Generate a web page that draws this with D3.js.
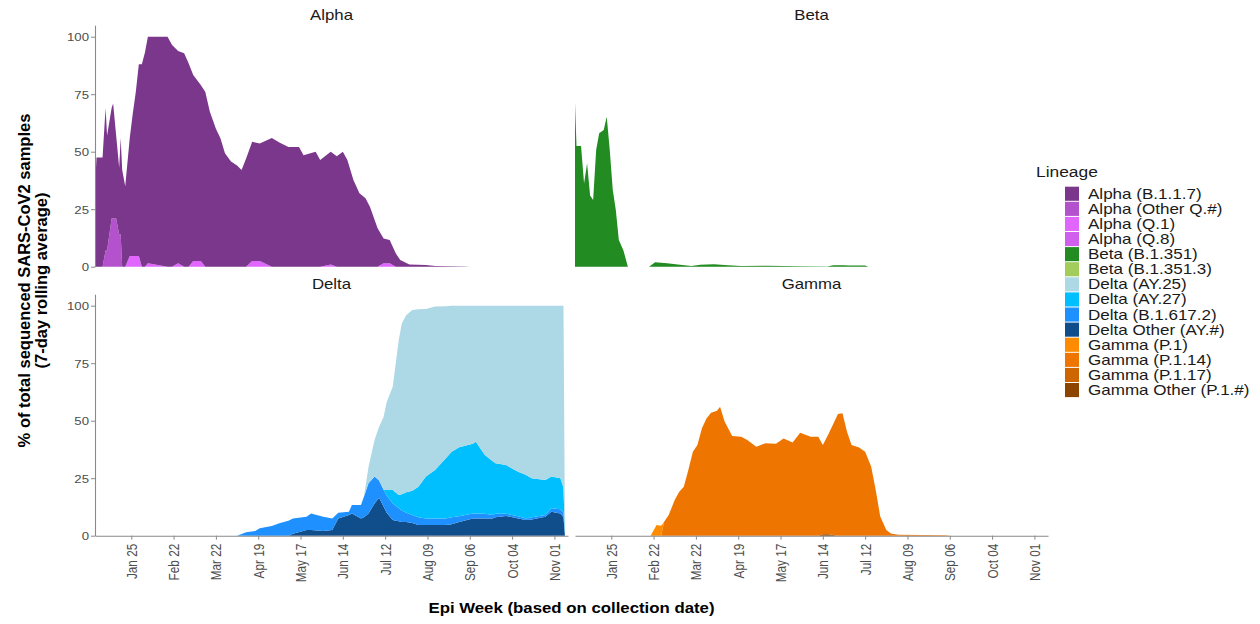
<!DOCTYPE html>
<html>
<head>
<meta charset="utf-8">
<script src="https://cdn.jsdelivr.net/npm/d3@7"></script>
<style>
  body { margin: 0; background: #fff; }
  svg text { font-family: "Liberation Sans", Arial, sans-serif; }
</style>
</head>
<body>
<svg id="chart" width="1260" height="624"></svg>
<script>
const lineages = ["Alpha (B.1.1.7)", "Alpha (Other Q.#)", "Alpha (Q.1)", "Alpha (Q.8)",
  "Beta (B.1.351)", "Beta (B.1.351.3)",
  "Delta (AY.25)", "Delta (AY.27)", "Delta (B.1.617.2)", "Delta Other (AY.#)",
  "Gamma (P.1)", "Gamma (P.1.14)", "Gamma (P.1.17)", "Gamma Other (P.1.#)"];
const lineageColors = ["#7a378b", "#b452cd", "#e066ff", "#d15fee",
  "#228b22", "#a2cd5a",
  "#add8e6", "#00bfff", "#1e90ff", "#104e8b",
  "#ff8c00", "#ee7600", "#cd6600", "#8b4500"];

const tickDates = ["2021-01-25", "2021-02-22", "2021-03-22", "2021-04-19", "2021-05-17", "2021-06-14",
  "2021-07-12", "2021-08-09", "2021-09-06", "2021-10-04", "2021-11-01"];
const yTicks = [0, 25, 50, 75, 100];

// Alpha panel
const alphaDates = ["2021-01-01","2021-01-02","2021-01-06","2021-01-08","2021-01-09","2021-01-12","2021-01-13","2021-01-15","2021-01-17","2021-01-18",
  "2021-01-19","2021-01-21","2021-01-24","2021-01-26","2021-01-28","2021-01-30","2021-02-01","2021-02-03","2021-02-05","2021-02-18",
  "2021-02-21","2021-02-25","2021-03-01","2021-03-04","2021-03-07","2021-03-12","2021-03-15","2021-03-18","2021-03-22","2021-03-25",
  "2021-03-28","2021-04-01","2021-04-05","2021-04-08","2021-04-11","2021-04-15","2021-04-20","2021-04-28","2021-05-03","2021-05-09",
  "2021-05-16","2021-05-19","2021-05-27","2021-05-30","2021-06-06","2021-06-10","2021-06-14","2021-06-17","2021-06-21","2021-06-25",
  "2021-06-29","2021-07-02","2021-07-07","2021-07-11","2021-07-15","2021-07-19","2021-07-22","2021-07-28","2021-08-08","2021-08-14",
  "2021-09-03","2021-09-06"];
const alphaB117 = [34,47.5,47.5,62,50,48,50,36,29,42, 42,35,51.4,62,71.4,83.4,88,93,98.5,100,
  96.4,92.3,92.8,88.4,80.8,76.5,76,67.4,60,55.8, 49.3,45.7,44,42,47,51.8,51.1,56,54,52,
  52,48.5,50,46.4,49,48,50,46.4,37.7,31.9, 29.8,26,16.7,10.8,10.1,5.8,2.9,1,0.7,0.3, 0.1,0];
const alphaOtherQ = [0,0,0,7,7,21,21,21,14,14, 0,0,0,0,0,0,0,0,0,0, 0,0,0,0,0,0,0,0,0,0,
  0,0,0,0,0,0,0,0,0,0, 0,0,0,0,0,0,0,0,0,0, 0,0,0,0,0,0,0,0,0,0, 0,0];
const alphaQ1 = [0,0,0,0,0,0,0,0,0,0, 0,0,4.6,4.6,4.6,4.6,0,0,1.5,0, 0,1.5,0,0,2.5,2.5,0,0,0,0,
  0,0,0,0,0,2.5,2.5,0,0,0, 0,0,0,0,1,0,0,0,0,0, 0,0,0,1.5,1.5,0,0,0,0,0, 0,0];

// Beta panel
const betaDates = ["2021-01-01","2021-01-02","2021-01-05","2021-01-07","2021-01-09","2021-01-11","2021-01-13","2021-01-15","2021-01-17","2021-01-20",
  "2021-01-22","2021-01-24","2021-01-26","2021-01-28","2021-01-30","2021-02-02","2021-02-05","2021-02-19","2021-02-23","2021-03-03",
  "2021-03-10","2021-03-19","2021-03-25","2021-04-03","2021-04-12","2021-04-21","2021-05-08","2021-05-30","2021-06-17","2021-06-21",
  "2021-06-28","2021-07-01","2021-07-12","2021-07-14"];
const betaB1351 = [71.3,52.5,52.5,36.2,45,31,29,50.7,58,59.4, 65.2,50.7,33.3,24.7,11.6,7.2,0,0,1.9,1.5,
  1.0,0.3,0.9,1.1,0.6,0.3,0.4,0.2,0.1,0.6, 0.6,0.5,0.5,0];

// Delta panel
const deltaDates = ["2021-04-05","2021-04-11","2021-04-17","2021-04-20","2021-04-28","2021-05-03","2021-05-09","2021-05-12","2021-05-21","2021-05-24",
  "2021-06-01","2021-06-07","2021-06-11","2021-06-18","2021-06-20","2021-06-26","2021-06-28","2021-07-01","2021-07-05","2021-07-08",
  "2021-07-11","2021-07-13","2021-07-17","2021-07-21","2021-07-23","2021-07-26","2021-07-30","2021-08-03","2021-08-08","2021-08-14",
  "2021-08-21","2021-08-25","2021-08-30","2021-09-08","2021-09-10","2021-09-16","2021-09-21","2021-09-23","2021-09-30","2021-10-08",
  "2021-10-13","2021-10-17","2021-10-26","2021-10-30","2021-11-05","2021-11-07","2021-11-08"];
const deltaAY25 = [0,0,0,0,0,0,0,0,0,0, 0,0,0,0,0,0,0,7.2,15.9,23.4,
  31.8,38.1,44.9,67.3,74.3,77.1,78.6,77.2,72.9,71, 66.2,63.5,61.5,60,59.1,64.9,67.5,68.5,69.3,72.2,
  73.5,75,75.8,74.3,75,79,0];
const deltaAY27 = [0,0,0,0,0,0,0,0,0,0, 0,0,0,0,0,0,0,0,0,0,
  0,2.4,5.9,5.7,7,8.9,10.5,13.3,18.2,21.1, 26.1,28.5,30,30.3,31.2,25.6,23.5,22,21.2,19.3,
  19,17,15.2,13.8,13.5,11,0];
const deltaB16172 = [0,1.5,2,3.2,4.2,5.4,6.5,6.7,5.7,7.2, 6.2,5,2.5,1.4,3.6,5.8,9,13.1,11.7,7.5,
  7.3,7.5,7.2,5.7,5,4,3.5,3.4,2.9,2.9, 2.9,3,2.5,2.2,2.2,2,1.5,1.5,0.9,1,
  0.7,1,0.8,1.5,1.8,2,0];
const deltaOther = [0,0,0,0,0,0,0,0.8,2.5,2.5, 2,2.5,7.5,9,9.7,7.5,8,9.7,14,16.5,
  12.6,10,6.8,6.3,6,6,5.5,4.6,4.6,4.6, 4.6,5,6,7.5,7.5,7.5,7.5,8,8.6,7.5,
  6.8,7,8.2,10.4,9.7,8,0];

// Gamma panel
const gammaDates = ["2021-02-20","2021-02-24","2021-02-27","2021-03-01","2021-03-04","2021-03-08","2021-03-11","2021-03-14","2021-03-17","2021-03-20",
  "2021-03-23","2021-03-26","2021-03-29","2021-04-01","2021-04-05","2021-04-07","2021-04-10","2021-04-15","2021-04-21","2021-04-25",
  "2021-05-01","2021-05-07","2021-05-14","2021-05-19","2021-05-25","2021-05-30","2021-06-06","2021-06-11","2021-06-14","2021-06-18",
  "2021-06-24","2021-06-27","2021-06-30","2021-07-03","2021-07-08","2021-07-12","2021-07-16","2021-07-19","2021-07-22","2021-07-26",
  "2021-07-29","2021-08-03","2021-09-04","2021-09-06"];
const gammaP1 = [0,4.6,4.3,0,0,0,0,0,0,0, 0,0,0,0,0,0,0,0,0,0, 0,0,0,0,0,0,0,0,0,0,
  0,0,0,0,0,0,0,0,0,0, 0,0,0,0];
const gammaP114 = [0,0,0,6.1,9,15.5,19.1,21.3,28.6,36.5, 39.4,46.7,51,53.5,54.3,56.1,49.6,43.3,43,41.6,
  38.7,40.2,40,42.3,40.5,44.8,43,43,38.8,43.9, 52.9,53.2,45.2,39.4,38.4,36.5,30,19.9,8.3,2.5,
  1,0.4,0.2,0];
const gammaOther = [0,0,0,0,0,0,0,0,0,0, 0,0,0,0,0,0,0,0,0,0, 0,0,0,0,0,0,0,0,0.6,0.6,
  0,0,0,0,0,0,0,0,0,0, 0,0,0,0];

const parse = d3.timeParse("%Y-%m-%d");
const color = d3.scaleOrdinal().domain(lineages).range(lineageColors);
const SX = 1.2; // horizontal text stretch seen in the picture

const svg = d3.select("#chart");
const cols = [[95, 568], [575, 1048]];
const rows = [[25.2, 266.7], [294.2, 535.7]];
const xDomain = [parse("2021-01-01"), parse("2021-11-10")];

const panels = [
  { title: "Alpha", col: 0, row: 0, dates: alphaDates, yAxis: true, xAxis: false,
    series: { "Alpha (B.1.1.7)": alphaB117, "Alpha (Other Q.#)": alphaOtherQ, "Alpha (Q.1)": alphaQ1 } },
  { title: "Beta", col: 1, row: 0, dates: betaDates, yAxis: false, xAxis: false,
    series: { "Beta (B.1.351)": betaB1351 } },
  { title: "Delta", col: 0, row: 1, dates: deltaDates, yAxis: true, xAxis: true,
    series: { "Delta (AY.25)": deltaAY25, "Delta (AY.27)": deltaAY27, "Delta (B.1.617.2)": deltaB16172, "Delta Other (AY.#)": deltaOther } },
  { title: "Gamma", col: 1, row: 1, dates: gammaDates, yAxis: false, xAxis: true,
    series: { "Gamma (P.1)": gammaP1, "Gamma (P.1.14)": gammaP114, "Gamma Other (P.1.#)": gammaOther } }
];

function wideText(sel, x, y, str, size) {
  return sel.append("text")
    .attr("transform", `translate(${x},${y}) scale(${SX},1)`)
    .style("font-size", size + "px")
    .text(str);
}

panels.forEach(p => {
  const x = d3.scaleTime().domain(xDomain).range(cols[p.col]);
  const y = d3.scaleLinear().domain([0, 105]).range([rows[p.row][1], rows[p.row][0]]);

  // ggplot stacks the first level on top, so the stack is built bottom-first
  const keys = lineages.filter(l => p.series[l]).reverse();
  const table = p.dates.map((d, i) => {
    const r = { date: parse(d) };
    keys.forEach(k => r[k] = p.series[k][i]);
    return r;
  });
  const layers = d3.stack().keys(keys)(table);

  const area = d3.area()
    .x(d => x(d.data.date))
    .y0(d => y(d[0]))
    .y1(d => y(d[1]));

  const g = svg.append("g");
  g.selectAll("path.layer")
    .data(layers)
    .join("path")
    .attr("class", "layer")
    .attr("fill", d => color(d.key))
    .attr("d", area);

  // strip title
  wideText(svg, (cols[p.col][0] + cols[p.col][1]) / 2, rows[p.row][0] - 5, p.title, 14)
    .attr("text-anchor", "middle")
    .attr("fill", "#1a1a1a");

  if (p.yAxis) {
    const ay = svg.append("g")
      .attr("transform", `translate(${cols[p.col][0]},0)`)
      .call(d3.axisLeft(y).tickValues(yTicks).tickSize(4).tickSizeOuter(0));
    ay.select(".domain").attr("stroke", "#8a8a8a").attr("stroke-width", 1.1);
    ay.selectAll(".tick line").attr("stroke", "#8a8a8a");
    ay.selectAll(".tick text")
      .attr("x", null).attr("dy", null)
      .attr("transform", `translate(-6,4) scale(${SX},1)`)
      .style("font-size", "11px")
      .attr("fill", "#4d4d4d");
  }

  if (p.xAxis) {
    const ax = svg.append("g")
      .attr("transform", `translate(0,${rows[p.row][1]})`)
      .call(d3.axisBottom(x)
        .tickValues(tickDates.map(parse))
        .tickFormat(d3.timeFormat("%b %d"))
        .tickSize(4)
        .tickSizeOuter(0));
    ax.select(".domain").attr("stroke", "#8a8a8a").attr("stroke-width", 1.1);
    ax.selectAll(".tick line").attr("stroke", "#8a8a8a");
    ax.selectAll(".tick text")
      .attr("y", null).attr("dy", null)
      .attr("transform", `rotate(-90) scale(1,${SX})`)
      .attr("x", -8)
      .attr("dy", "0.35em")
      .style("text-anchor", "end")
      .style("font-size", "11.8px")
      .attr("fill", "#4d4d4d");
  }
});

// axis titles
const yTitle = svg.append("g")
  .attr("transform", "translate(0,280.5) rotate(-90)")
  .style("font-size", "16.5px")
  .style("font-weight", "bold")
  .attr("text-anchor", "middle");
yTitle.append("text").attr("y", 30).text("% of total sequenced SARS-CoV2 samples");
yTitle.append("text").attr("y", 47).text("(7-day rolling average)");

wideText(svg, 571.5, 613, "Epi Week (based on collection date)", 14)
  .attr("text-anchor", "middle")
  .style("font-weight", "bold");

// legend
const legend = svg.append("g");
wideText(legend, 1036, 177, "Lineage", 14.5).attr("fill", "#1a1a1a");
const rowsL = legend.selectAll("g.key")
  .data(lineages)
  .join("g")
  .attr("class", "key")
  .attr("transform", (d, i) => `translate(1065,${186.7 + i * 15.1})`);
rowsL.append("rect")
  .attr("width", 14)
  .attr("height", 14.1)
  .attr("fill", d => color(d));
rowsL.each(function (d) {
  wideText(d3.select(this), 23, 12, d, 14.2).attr("fill", "#1a1a1a");
});
</script>
</body>
</html>
